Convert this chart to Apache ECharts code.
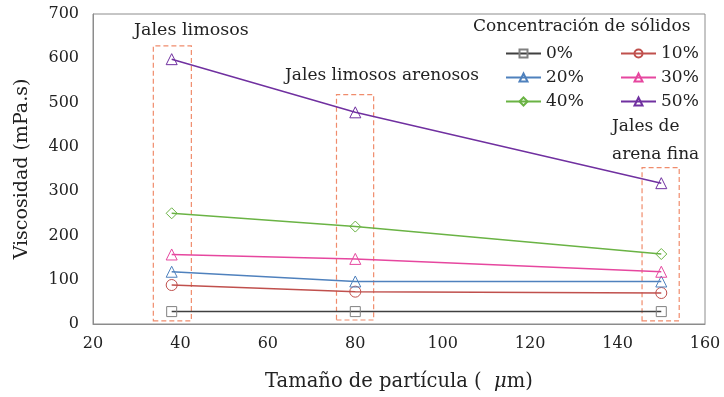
<!DOCTYPE html>
<html>
<head>
<meta charset="utf-8">
<script src="https://cdn.jsdelivr.net/npm/echarts@6/dist/echarts.min.js"></script>
<style>
  html, body { margin: 0; padding: 0; background: #fff; }
  #chart { width: 724px; height: 397px; }
</style>
</head>
<body>
<div id="chart"></div>
<script>
// Particle size (µm) for each tailings type
const particleSize = [38, 80, 150];

// Viscosity (mPa.s) per solids concentration
const seriesNames = ['0%', '10%', '20%', '30%', '40%', '50%'];
const visc0 = [28, 28, 28];
const visc10 = [88, 73, 70];
const visc20 = [118, 96, 96];
const visc30 = [157, 147, 118];
const visc40 = [250, 220, 158];
const visc50 = [598, 478, 318];

// Group boxes: [xFrom, xTo, yFrom, yTo] in data units
const boxLimosos = [33.8, 42.5, 7, 628];
const boxArenosos = [75.7, 84.2, 9, 518];
const boxArenaFina = [145.6, 154.1, 7, 353];

const colors = ['#404040', '#c0504d', '#4f81bd', '#e6479f', '#6ab344', '#7030a0'];
const symbols = ['rect', 'circle', 'triangle', 'triangle', 'diamond', 'triangle'];
const values = [visc0, visc10, visc20, visc30, visc40, visc50];

const FONT = 'DejaVu Serif';

function box(b) {
  return [{ xAxis: b[0], yAxis: b[2] }, { xAxis: b[1], yAxis: b[3] }];
}

const series = seriesNames.map((name, i) => ({
  name: name,
  type: 'line',
  data: particleSize.map((x, j) => [x, values[i][j]]),
  symbol: symbols[i],
  symbolSize: symbols[i] === 'rect' ? 10 : 11,
  lineStyle: { color: colors[i], width: 1.5 },
  itemStyle: {
    color: 'rgba(255,255,255,0)',
    borderColor: i === 0 ? '#808080' : colors[i],
    borderWidth: 1
  },
  emphasis: { disabled: true },
  z: 3
}));

// dashed group outlines
series.push({
  name: 'grupos',
  type: 'line',
  data: [],
  silent: true,
  markArea: {
    silent: true,
    itemStyle: {
      color: 'rgba(0,0,0,0)',
      borderColor: '#f08c6c',
      borderWidth: 1.2,
      borderType: [5, 3]
    },
    data: [box(boxLimosos), box(boxArenosos), box(boxArenaFina)]
  }
});

const chart = echarts.init(document.getElementById('chart'), null, { renderer: 'canvas' });

const legendCommon = {
  orient: 'vertical',
  itemWidth: 35,
  itemHeight: 10,
  itemGap: 7,
  padding: 0,
  textStyle: { fontFamily: FONT, fontSize: 17, color: '#222', lineHeight: 17 },
  selectedMode: false
};

chart.setOption({
  animation: false,
  backgroundColor: '#fff',
  grid: {
    left: 93, right: 19, top: 14, bottom: 72,
    show: true, borderColor: '#8c8c8c', borderWidth: 1
  },
  xAxis: {
    type: 'value',
    min: 20, max: 160, interval: 20,
    axisLine: { show: true, lineStyle: { color: '#8c8c8c' } },
    axisTick: { show: false },
    splitLine: { show: false },
    axisLabel: { fontFamily: FONT, fontSize: 16, color: '#222', margin: 12 },
    name: '{n|Tamaño de partícula (  }{mu|μ}{n|m)}',
    nameLocation: 'middle',
    nameGap: 48,
    nameTextStyle: {
      rich: {
        n: { fontFamily: FONT, fontSize: 19.5, color: '#222' },
        mu: { fontFamily: FONT, fontSize: 19.5, color: '#222', fontStyle: 'italic' }
      }
    }
  },
  yAxis: {
    type: 'value',
    min: 0, max: 700, interval: 100,
    axisLine: { show: true, lineStyle: { color: '#8c8c8c' } },
    axisTick: { show: false },
    splitLine: { show: false },
    axisLabel: { fontFamily: FONT, fontSize: 16, color: '#222', margin: 14 },
    name: 'Viscosidad (mPa.s)',
    nameLocation: 'middle',
    nameGap: 61,
    nameTextStyle: { fontFamily: FONT, fontSize: 19, color: '#222' }
  },
  legend: [
    Object.assign({ left: 505, top: 45, data: ['0%', '20%', '40%'] }, legendCommon),
    Object.assign({ left: 620, top: 45, data: ['10%', '30%', '50%'] }, legendCommon)
  ],
  graphic: [
    { type: 'text', left: 473, top: 18,
      style: { text: 'Concentración de sólidos', font: '17px "DejaVu Serif"', fill: '#222' } },
    { type: 'text', left: 134, top: 21,
      style: { text: 'Jales limosos', font: '17.5px "DejaVu Serif"', fill: '#222' } },
    { type: 'text', left: 285, top: 67,
      style: { text: 'Jales limosos arenosos', font: '17px "DejaVu Serif"', fill: '#222' } },
    { type: 'text', left: 612, top: 113,
      style: { text: 'Jales de\narena fina', font: '17px "DejaVu Serif"', fill: '#222',
               lineHeight: 28, align: 'left' } }
  ],
  series: series
});
</script>
</body>
</html>
